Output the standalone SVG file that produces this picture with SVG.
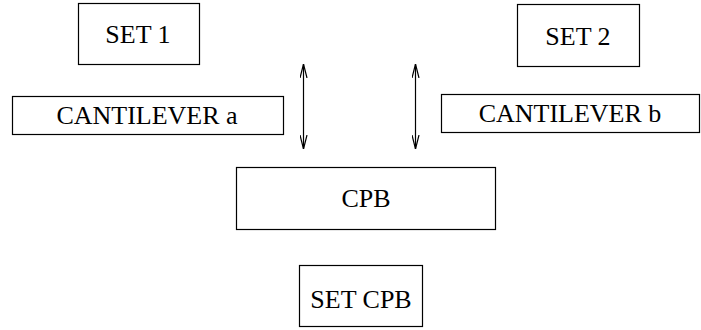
<svg xmlns="http://www.w3.org/2000/svg" width="701" height="330" viewBox="0 0 701 330">
<style>
.n rect{fill:#fff;stroke:#000;stroke-width:1.2}
text{font-family:"Liberation Serif","Times New Roman",serif;font-size:26px;text-anchor:middle;fill:#000}
.c line{stroke:#000;stroke-width:1.2}
</style>
<defs>
<marker id="ah" viewBox="0 0 14 8" refX="14" refY="4" markerWidth="14" markerHeight="8" orient="auto-start-reverse" markerUnits="userSpaceOnUse">
<path d="M0,0.5 L14,4 L0,7.5" fill="none" stroke="#000" stroke-width="1.2"/>
</marker>
</defs>
<rect width="701" height="330" fill="#fff"/>
<g id="set1" class="n"><rect x="78.5" y="3.5" width="121" height="61"/><text x="138" y="43">SET 1</text></g>
<g id="cantilever-a" class="n"><rect x="12.5" y="96.5" width="271" height="38"/><text x="147" y="124">CANTILEVER a</text></g>
<g id="set2" class="n"><rect x="517.5" y="4.5" width="122" height="62"/><text x="578" y="45">SET 2</text></g>
<g id="cantilever-b" class="n"><rect x="441.5" y="94.5" width="258" height="38"/><text x="570" y="122">CANTILEVER b</text></g>
<g id="cpb" class="n"><rect x="236.5" y="167.5" width="259" height="62"/><text x="366" y="207">CPB</text></g>
<g id="set-cpb" class="n"><rect x="299.5" y="265.5" width="123" height="61"/><text x="361" y="308">SET CPB</text></g>
<g class="c">
<line x1="303.5" y1="64" x2="303.5" y2="149" marker-start="url(#ah)" marker-end="url(#ah)"/>
<line x1="415.5" y1="64" x2="415.5" y2="149" marker-start="url(#ah)" marker-end="url(#ah)"/>
</g>
</svg>
